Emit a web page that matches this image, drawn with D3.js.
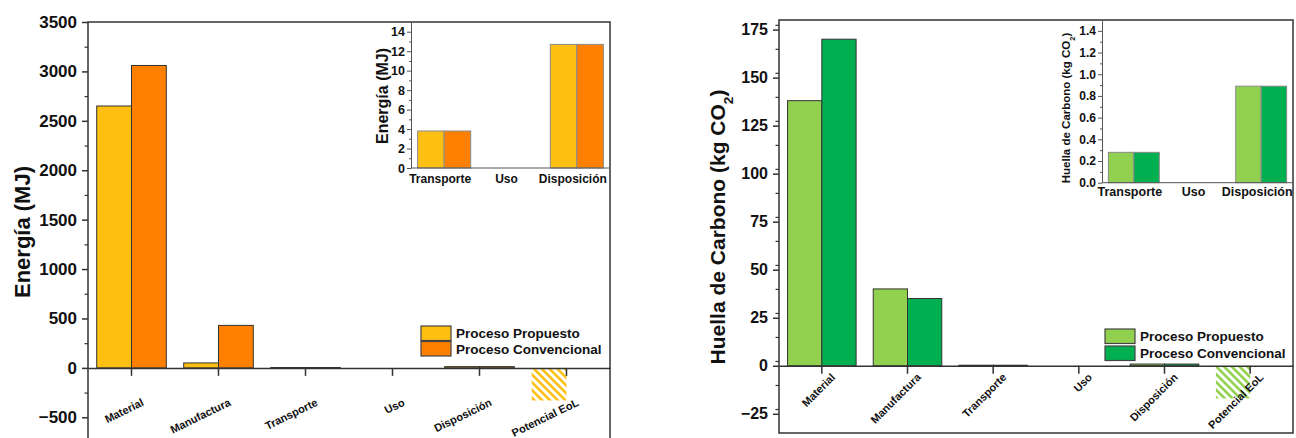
<!DOCTYPE html>
<html>
<head>
<meta charset="utf-8">
<script src="https://cdn.jsdelivr.net/npm/d3@7"></script>
<style>
  body { margin: 0; background: #fff; }
  svg { display: block; }
  text { font-family: "Liberation Sans", Arial, sans-serif; font-weight: bold; fill: #111; }
</style>
</head>
<body>
<svg id="chart" width="1296" height="438"></svg>
<script>
// Life-cycle stages and the two processes compared
const categories = ["Material", "Manufactura", "Transporte", "Uso", "Disposición", "Potencial EoL"];
const seriesNames = ["Proceso Propuesto", "Proceso Convencional"];
const insetCategories = ["Transporte", "Uso", "Disposición"];

// Energy demand (MJ)
const energyProposed     = [2650, 50, 3.8, 0, 12.7, -330];
const energyConventional = [3060, 430, 3.8, 0, 12.7, null];

// Carbon footprint (kg CO2)
const carbonProposed     = [138, 40, 0.28, 0, 0.89, -17];
const carbonConventional = [170, 35, 0.28, 0, 0.89, null];

// Tick labels
const energyTicks      = [-500, 0, 500, 1000, 1500, 2000, 2500, 3000, 3500];
const energyInsetTicks = [0, 2, 4, 6, 8, 10, 12, 14];
const carbonTicks      = [-25, 0, 25, 50, 75, 100, 125, 150, 175];
const carbonInsetTicks = [0, 0.2, 0.4, 0.6, 0.8, 1.0, 1.2, 1.4];

const svg = d3.select("#chart");
const defs = svg.append("defs");

function hatch(id, color) {
  const p = defs.append("pattern")
    .attr("id", id).attr("patternUnits", "userSpaceOnUse")
    .attr("width", 5.5).attr("height", 5.5)
    .attr("patternTransform", "rotate(-45)");
  p.append("rect").attr("width", 5.5).attr("height", 5.5).attr("fill", "#fff");
  p.append("rect").attr("x", 0).attr("width", 2.6).attr("height", 5.5).attr("fill", color);
}

function panel(cfg) {
  const g = svg.append("g");
  const x = d3.scaleBand().domain(categories).range([cfg.x0, cfg.x1]).paddingInner(0.2).paddingOuter(0.1);
  const y = d3.scaleLinear().domain(cfg.yDomain).range([cfg.y1, cfg.y0]);
  const sub = d3.scaleBand().domain([0, 1]).range([0, x.bandwidth()]);

  hatch(cfg.id + "-hatch", cfg.colors[0]);

  const clipId = cfg.id + "-clip";
  defs.append("clipPath").attr("id", clipId)
    .append("rect").attr("x", cfg.x0).attr("y", cfg.y0)
    .attr("width", cfg.x1 - cfg.x0).attr("height", cfg.y1 - cfg.y0);

  const plot = g.append("g").attr("clip-path", `url(#${clipId})`);

  // Bars
  cfg.series.forEach((vals, si) => {
    categories.forEach((c, ci) => {
      const v = vals[ci];
      if (v === null) return;
      const neg = v < 0;
      const rect = plot.append("rect")
        .attr("x", x(c) + sub(si))
        .attr("width", sub.bandwidth())
        .attr("y", y(Math.max(0, v)))
        .attr("height", Math.abs(y(v) - y(0)));
      if (neg) {
        rect.attr("fill", `url(#${cfg.id}-hatch)`);
      } else {
        rect.attr("fill", cfg.colors[si]).attr("stroke", "#333").attr("stroke-width", 1);
      }
    });
  });

  // Zero line with category ticks
  const xAxis = g.append("g").attr("transform", `translate(0,${y(0)})`)
    .call(d3.axisBottom(x).tickSize(8).tickSizeOuter(0).tickFormat(""));
  xAxis.select(".domain").attr("stroke", "#333").attr("stroke-width", 1.5);
  xAxis.selectAll(".tick line").attr("stroke", "#333").attr("stroke-width", 1.5);

  // Category labels
  categories.forEach(c => {
    const cx = x(c) + x.bandwidth() / 2 + cfg.labelDx;
    g.append("text")
      .attr("transform", `translate(${cx},${cfg.labelY}) rotate(${cfg.labelRot})`)
      .attr("text-anchor", "end")
      .attr("font-size", cfg.labelSize)
      .text(c);
  });

  // Y axis
  const yAxis = g.append("g").attr("transform", `translate(${cfg.x0},0)`)
    .call(d3.axisLeft(y).tickValues(cfg.ticks).tickSize(6).tickPadding(5).tickSizeOuter(0)
      .tickFormat(d3.format("d")));
  yAxis.select(".domain").remove();
  yAxis.selectAll(".tick line").attr("stroke", "#333").attr("stroke-width", 1.5);
  yAxis.selectAll(".tick text").attr("font-size", cfg.tickSize).attr("fill", "#111");
  const minors = d3.range(cfg.yDomain[0], cfg.yDomain[1] + 1e-9, cfg.minorStep)
    .filter(v => v > cfg.yDomain[0] && cfg.ticks.every(t => Math.abs(t - v) > 1e-9));
  const yMinor = g.append("g").attr("transform", `translate(${cfg.x0},0)`)
    .call(d3.axisLeft(y).tickValues(minors).tickSize(3.5).tickFormat(""));
  yMinor.select(".domain").remove();
  yMinor.selectAll(".tick line").attr("stroke", "#333").attr("stroke-width", 1.2);

  // Frame
  g.append("rect").attr("x", cfg.x0).attr("y", cfg.y0)
    .attr("width", cfg.x1 - cfg.x0).attr("height", cfg.y1 - cfg.y0)
    .attr("fill", "none").attr("stroke", "#333").attr("stroke-width", 1.5);

  // Y title
  const yt = g.append("text")
    .attr("transform", `translate(${cfg.titleX},${cfg.titleY}) rotate(-90)`)
    .attr("text-anchor", "middle").attr("font-size", cfg.titleSize);
  cfg.title.forEach(part => {
    const t = yt.append("tspan").text(part.t);
    if (part.sub) t.attr("baseline-shift", "sub").attr("font-size", cfg.titleSize * 0.65);
  });

  // Inset: small stages on an enlarged scale
  const ix = d3.scaleBand().domain(insetCategories).range([cfg.inset.x0, cfg.inset.x1]).paddingInner(0.2).paddingOuter(0.1);
  const iy = d3.scaleLinear().domain(cfg.inset.yDomain).range([cfg.inset.yBottom, cfg.y0]);
  const isub = d3.scaleBand().domain([0, 1]).range([0, ix.bandwidth()]);
  const ig = g.append("g");
  cfg.series.forEach((vals, si) => {
    insetCategories.forEach(c => {
      const v = vals[categories.indexOf(c)];
      if (!v) return;
      ig.append("rect")
        .attr("x", ix(c) + isub(si)).attr("width", isub.bandwidth())
        .attr("y", iy(v)).attr("height", iy(0) - iy(v))
        .attr("fill", cfg.colors[si]).attr("stroke", "#8a8a8a").attr("stroke-width", 1);
    });
  });
  ig.append("line").attr("x1", cfg.inset.x0).attr("x2", cfg.inset.x1)
    .attr("y1", iy(0)).attr("y2", iy(0)).attr("stroke", "#555").attr("stroke-width", 1);
  const iyAxis = ig.append("g").attr("transform", `translate(${cfg.inset.x0},0)`)
    .call(d3.axisLeft(iy).tickValues(cfg.inset.ticks).tickSize(4).tickPadding(2).tickSizeOuter(0)
      .tickFormat(d3.format(cfg.inset.fmt)));
  iyAxis.select(".domain").attr("stroke", "#555").attr("stroke-width", 1);
  iyAxis.selectAll(".tick line").attr("stroke", "#555");
  iyAxis.selectAll(".tick text").attr("font-size", cfg.inset.tickSize).attr("fill", "#111");
  const iMinors = d3.range(0, cfg.inset.yDomain[1], cfg.inset.minorStep)
    .filter(v => cfg.inset.ticks.every(t => Math.abs(t - v) > 1e-9));
  const iyMinor = ig.append("g").attr("transform", `translate(${cfg.inset.x0},0)`)
    .call(d3.axisLeft(iy).tickValues(iMinors).tickSize(2).tickFormat(""));
  iyMinor.select(".domain").remove();
  iyMinor.selectAll(".tick line").attr("stroke", "#555");
  insetCategories.forEach(c => {
    ig.append("text")
      .attr("x", ix(c) + ix.bandwidth() / 2 - 4).attr("y", cfg.inset.labelY)
      .attr("text-anchor", "middle").attr("font-size", cfg.inset.labelSize).text(c);
  });
  const it = ig.append("text")
    .attr("transform", `translate(${cfg.inset.titleX},${cfg.inset.titleY}) rotate(-90)`)
    .attr("text-anchor", "middle").attr("font-size", cfg.inset.titleSize);
  cfg.title.forEach(part => {
    const t = it.append("tspan").text(part.t);
    if (part.sub) t.attr("baseline-shift", "sub").attr("font-size", cfg.inset.titleSize * 0.65);
  });

  // Legend
  seriesNames.forEach((name, i) => {
    g.append("rect").attr("x", cfg.legend.x).attr("y", cfg.legend.rows[i])
      .attr("width", 30).attr("height", 14.5)
      .attr("fill", cfg.colors[i]).attr("stroke", "#444").attr("stroke-width", 1.2);
    g.append("text").attr("x", cfg.legend.x + 35).attr("y", cfg.legend.rows[i] + 12)
      .attr("font-size", 13.5).text(name);
  });
}

panel({
  id: "energy",
  x0: 88, x1: 610, y0: 22, y1: 442,
  yDomain: [-750, 3500], ticks: energyTicks, minorStep: 250, tickSize: 17,
  series: [energyProposed, energyConventional],
  colors: ["#FDC012", "#FF8000"],
  labelDx: 13, labelY: 405, labelRot: -26, labelSize: 11,
  title: [{ t: "Energía (MJ)" }], titleX: 29.5, titleY: 232, titleSize: 22,
  inset: {
    x0: 411, x1: 610, yBottom: 168, yDomain: [0, 15], ticks: energyInsetTicks, minorStep: 1,
    fmt: "d", tickSize: 12.5, labelY: 183, labelSize: 12,
    titleX: 388, titleY: 96, titleSize: 16
  },
  legend: { x: 421, rows: [326, 341.5] }
});

panel({
  id: "carbon",
  x0: 779, x1: 1293, y0: 20, y1: 433,
  yDomain: [-35, 180], ticks: carbonTicks, minorStep: 12.5, tickSize: 16,
  series: [carbonProposed, carbonConventional],
  colors: ["#92D050", "#00B050"],
  labelDx: 14, labelY: 378, labelRot: -45, labelSize: 11,
  title: [{ t: "Huella de Carbono (kg CO" }, { t: "2", sub: true }, { t: ")" }],
  titleX: 725, titleY: 227, titleSize: 21,
  inset: {
    x0: 1102, x1: 1293, yBottom: 182.7, yDomain: [0, 1.5], ticks: carbonInsetTicks, minorStep: 0.1,
    fmt: ".1f", tickSize: 12, labelY: 196, labelSize: 12.5,
    titleX: 1070, titleY: 108, titleSize: 11.5
  },
  legend: { x: 1105, rows: [329, 346] }
});
</script>
</body>
</html>
